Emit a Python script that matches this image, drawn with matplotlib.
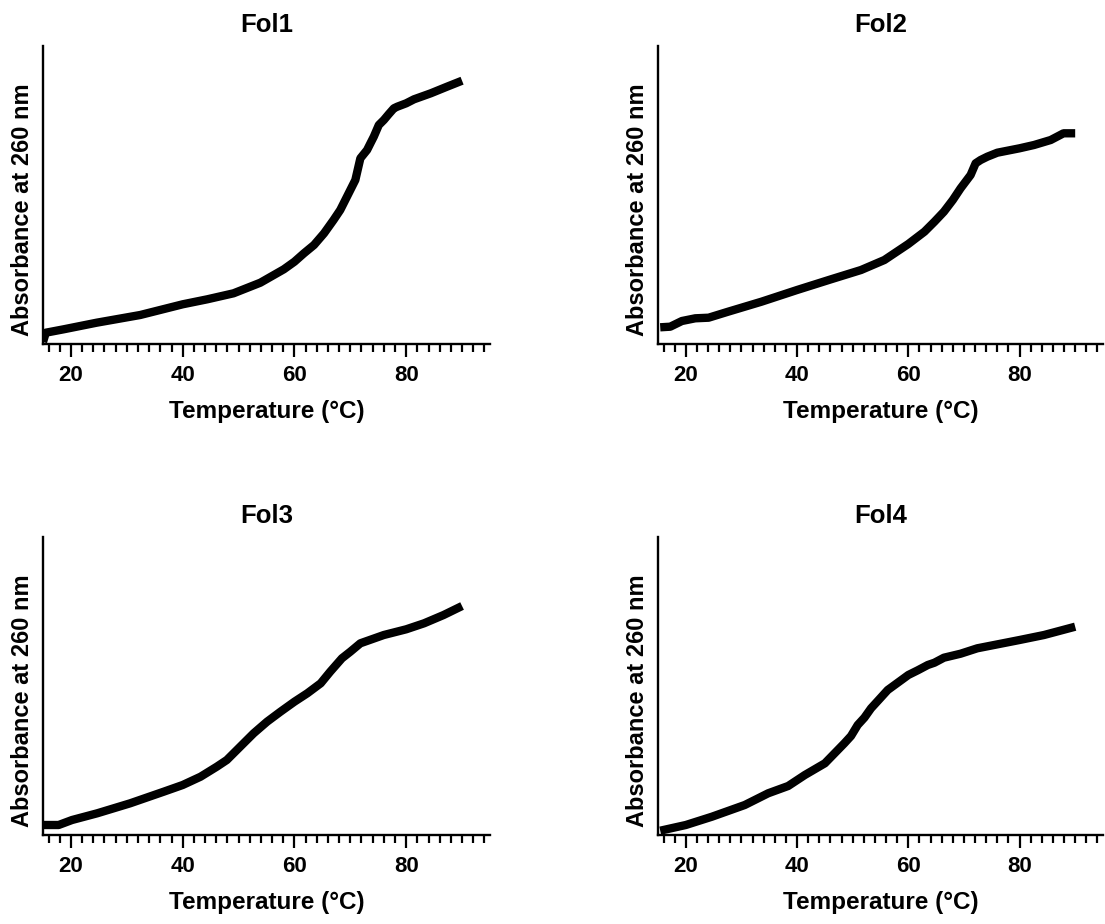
import matplotlib
matplotlib.use("Agg")
import matplotlib.pyplot as plt
from matplotlib.ticker import MultipleLocator

plt.rcParams['font.family'] = ['Liberation Sans', 'DejaVu Sans']
plt.rcParams['font.weight'] = 'bold'

# melting curves, absorbance in arbitrary units (no y scale shown)
temp_fol1 = [15.0, 15.5, 18.7, 24.6, 32.4, 40.0, 44.4, 49.1, 53.9, 58.1, 60.0, 61.7, 63.5, 65.3, 67.0, 68.2, 69.4, 70.9, 71.8,
             73.0, 73.6, 74.2, 75.1, 76.0, 76.9, 77.8, 78.4, 80.0, 81.4, 84.4, 87.3, 90.0]
abs_fol1 = [2, 11.3, 14.7, 21.3, 29, 39.7, 44.7, 50.7, 61.3, 74.7, 82.3, 90.7, 99, 110.7, 124, 134, 147.3, 164, 185.7,
            194, 200.7, 207.3, 219, 224, 230, 235.7, 237.3, 240.7, 244.7, 250.7, 257.3, 263.3]

temp_fol2 = [15.4, 17.2, 19.3, 21.7, 24.1, 27.6, 33.6, 40.0, 46.1, 51.5, 55.7, 60.0, 62.9, 64.7, 66.4, 68.0, 69.4, 71.2, 72.1,
             73.0, 74.2, 76.0, 80.0, 82.6, 85.6, 87.9, 90.0]
abs_fol2 = [16.7, 17.3, 23, 25.7, 26.3, 32.3, 42.3, 54, 64.7, 74, 84, 100, 112.3, 122.3, 132.3, 144, 155.7, 169, 180.7,
            184, 187.3, 191.3, 195.7, 199, 204, 210.7, 210.7]

temp_fol3 = [15.1, 17.8, 20.2, 24.7, 30.6, 36.6, 40.0, 43.2, 46.1, 47.9, 50.9, 52.7, 55.1, 57.5, 60.0, 62.3, 64.7, 66.4, 68.5,
             70.0, 71.8, 76.0, 80.0, 83.2, 86.7, 90.0]
abs_fol3 = [10, 10, 15, 21.7, 31.7, 43.3, 50, 58.3, 68.3, 75, 91.7, 101.7, 113.3, 123.3, 133.3, 141.7, 151.7, 163.3, 176.7,
            183.3, 191.7, 200, 205.7, 211.7, 220, 229]

temp_fol4 = [15.4, 20.0, 24.7, 30.6, 34.8, 38.4, 41.4, 45.0, 48.5, 49.7, 50.9, 52.1, 53.3, 54.5, 56.3, 58.1, 60.0, 61.7, 63.5,
             64.7, 66.4, 69.4, 72.4, 80.0, 84.4, 90.0]
abs_fol4 = [4.3, 10, 18.3, 30, 41.7, 49, 60, 71.7, 91.7, 99, 110, 117.3, 126.7, 134, 145, 152.3, 160, 164.7, 170,
            172.3, 177.3, 181.3, 186.7, 195, 200, 208.3]

titles = ["Fol1", "Fol2", "Fol3", "Fol4"]
temps = [temp_fol1, temp_fol2, temp_fol3, temp_fol4]
absorb = [abs_fol1, abs_fol2, abs_fol3, abs_fol4]

W, H = 1105, 924
fig = plt.figure(figsize=(W / 100, H / 100), dpi=100)

# axes boxes in pixels: left, top, width, height
boxes = [(43, 46, 447, 298), (658, 46, 445, 298), (43, 537, 447, 298), (658, 537, 445, 298)]

for i in range(4):
    l, t, w, h = boxes[i]
    ax = fig.add_axes([l / W, 1 - (t + h) / H, w / W, h / H])
    ax.plot(temps[i], absorb[i], color="black", lw=6, solid_capstyle="butt", solid_joinstyle="round")
    ax.set_xlim(15, 95)
    ax.set_ylim(0, 298)
    ax.set_yticks([])
    ax.xaxis.set_minor_locator(MultipleLocator(2))
    ax.set_xticks([20, 40, 60, 80])
    ax.tick_params(axis="x", which="major", length=9, width=1.6, pad=6, labelsize=16)
    ax.tick_params(axis="x", which="minor", length=5.5, width=1.6)
    for s in ["top", "right"]:
        ax.spines[s].set_visible(False)
    for s in ["left", "bottom"]:
        ax.spines[s].set_linewidth(1.7)
    ax.set_title(titles[i], fontsize=18.5, fontweight="bold", pad=10)
    ax.set_xlabel("Temperature (°C)", fontsize=17.5, fontweight="bold", labelpad=10)
    ax.set_ylabel("Absorbance at 260 nm", fontsize=17, fontweight="bold")
    ax.yaxis.set_label_coords(-0.02, 0.451)

fig.savefig("out.png", dpi=100)
